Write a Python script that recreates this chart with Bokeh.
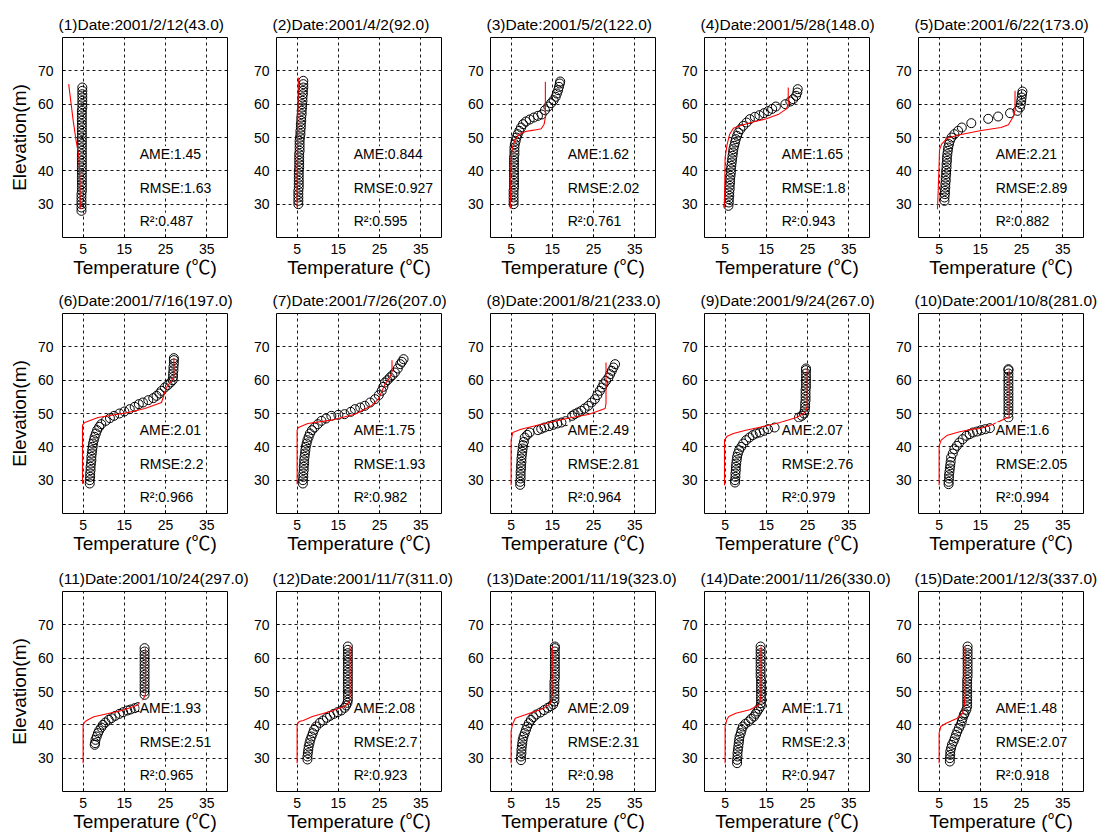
from bokeh.plotting import figure
from bokeh.layouts import column, row
from bokeh.models import FixedTicker, Label, Range1d
from bokeh.embed import file_html
from bokeh.resources import INLINE

FONT = "Liberation Sans"
LABEL_FONT = "Liberation Sans, Noto Sans CJK SC"

titles = ["(1)Date:2001/2/12(43.0)", "(2)Date:2001/4/2(92.0)", "(3)Date:2001/5/2(122.0)",
          "(4)Date:2001/5/28(148.0)", "(5)Date:2001/6/22(173.0)", "(6)Date:2001/7/16(197.0)",
          "(7)Date:2001/7/26(207.0)", "(8)Date:2001/8/21(233.0)", "(9)Date:2001/9/24(267.0)",
          "(10)Date:2001/10/8(281.0)", "(11)Date:2001/10/24(297.0)", "(12)Date:2001/11/7(311.0)",
          "(13)Date:2001/11/19(323.0)", "(14)Date:2001/11/26(330.0)", "(15)Date:2001/12/3(337.0)"]
ame = ["1.45", "0.844", "1.62", "1.65", "2.21", "2.01", "1.75", "2.49", "2.07", "1.6",
       "1.93", "2.08", "2.09", "1.71", "1.48"]
rmse = ["1.63", "0.927", "2.02", "1.8", "2.89", "2.2", "1.93", "2.81", "2.76", "2.05",
        "2.51", "2.7", "2.31", "2.3", "2.07"]
r2 = ["0.487", "0.595", "0.761", "0.943", "0.882", "0.966", "0.982", "0.964", "0.979", "0.994",
      "0.965", "0.923", "0.98", "0.947", "0.918"]

x_ticks = [5, 15, 25, 35]
y_ticks = [30, 40, 50, 60, 70]

# ---- observed profiles (elevation m, temperature C) ----
obs_elev_1 = [28, 29, 30, 31, 32, 33, 34, 35, 36, 37, 38, 39, 40, 41, 42, 43, 44, 45, 46, 47, 48, 49,
              50, 51, 52, 53, 54, 55, 56, 57, 58, 59, 60, 61, 62, 63, 64, 65]
obs_temp_1 = [4.6, 4.6, 4.6, 4.6, 4.6, 4.6, 4.7, 4.7, 4.7, 4.7, 4.7, 4.7, 4.7, 4.7, 4.7, 4.7, 4.7, 4.7,
              4.7, 4.7, 4.7, 4.7, 4.7, 4.7, 4.7, 4.7, 4.7, 4.7, 4.7, 4.7, 4.7, 4.8, 4.8, 4.8, 4.8, 4.8,
              4.8, 4.8]
obs_elev_2 = [30, 31, 32, 33, 34, 35, 36, 37, 38, 39, 40, 41, 42, 43, 44, 45, 46, 47, 48, 49, 50, 51,
              52, 53, 54, 55, 56, 57, 58, 59, 60, 61, 62, 63, 64, 65, 66, 67]
obs_temp_2 = [5.3, 5.3, 5.3, 5.3, 5.3, 5.4, 5.4, 5.4, 5.4, 5.4, 5.4, 5.5, 5.5, 5.5, 5.5, 5.5, 5.6, 5.6,
              5.6, 5.6, 5.7, 5.8, 5.8, 5.9, 5.9, 6.0, 6.0, 6.1, 6.1, 6.2, 6.2, 6.3, 6.3, 6.4, 6.4, 6.5,
              6.5, 6.5]
obs_elev_3 = [30, 31, 32, 33, 34, 35, 36, 37, 38, 39, 40, 41, 42, 43, 44, 45, 46, 47, 48, 49, 50, 51,
              52, 53, 54, 54.8, 55.4, 56, 56.5, 56.9, 58.2, 59.3, 60.3, 61.2, 62.2, 63.2, 64.2, 65.2,
              66.2, 66.8]
obs_temp_3 = [5.6, 5.6, 5.6, 5.6, 5.6, 5.7, 5.7, 5.7, 5.7, 5.7, 5.7, 5.7, 5.7, 5.7, 5.7, 5.8, 5.8, 5.8,
              5.9, 6.1, 6.3, 6.6, 7.0, 7.4, 7.9, 8.6, 9.5, 10.5, 11.5, 12.4, 13.2, 14.0, 14.7, 15.3,
              15.8, 16.1, 16.4, 16.6, 16.8, 16.9]
obs_elev_4 = [29.5, 30.5, 31.5, 32.5, 33.5, 34.5, 35.5, 36.5, 37.5, 38.5, 39.5, 40.5, 41.5, 42.5, 43.5,
              44.5, 45.5, 46.5, 47.5, 48.5, 49.5, 50.5, 51.5, 52.5, 53.5, 54.5, 55.5, 56.2, 56.7, 57.3,
              57.9, 58.6, 59.3, 60.0, 60.8, 61.5, 62.5, 63.5, 64.5]
obs_temp_4 = [5.8, 5.9, 5.9, 6.0, 6.0, 6.1, 6.1, 6.2, 6.2, 6.3, 6.4, 6.4, 6.5, 6.6, 6.7, 6.8, 6.9, 7.0,
              7.2, 7.4, 7.6, 7.9, 8.2, 8.7, 9.4, 10.2, 11.0, 12.2, 13.3, 14.4, 15.4, 16.4, 17.3, 19.6,
              20.8, 21.5, 22.2, 22.5, 22.6]
obs_elev_5 = [31, 32, 33, 34, 35, 36, 37, 38, 39, 40, 41, 42, 43, 44, 45, 46, 47, 48, 49, 50, 51, 52,
              53, 54.3, 55.6, 56.3, 57.3, 58, 59, 60, 61, 62, 63, 63.8]
obs_temp_5 = [6.3, 6.3, 6.4, 6.4, 6.5, 6.5, 6.6, 6.6, 6.7, 6.7, 6.8, 6.8, 6.9, 6.9, 7.0, 7.1, 7.2, 7.4,
              7.6, 8.0, 8.7, 9.6, 10.5, 12.8, 16.9, 19.3, 22.2, 24.0, 24.6, 24.8, 24.9, 25.0, 25.1, 25.2]
obs_elev_6 = [29, 30, 31, 32, 33, 34, 35, 36, 37, 38, 39, 40, 41, 42, 43, 44, 45, 46, 46.8, 47.8, 48.6,
              49.3, 50, 50.6, 51.3, 52, 52.8, 53.3, 54, 54.6, 55.3, 56, 56.8, 57.8, 58.5, 59.3, 60, 61,
              62, 63, 64, 65, 66, 66.6]
obs_temp_6 = [6.6, 6.6, 6.7, 6.7, 6.8, 6.8, 6.9, 7.0, 7.0, 7.1, 7.2, 7.3, 7.4, 7.6, 7.8, 8.1, 8.4, 8.9,
              9.4, 10.5, 11.5, 12.5, 13.8, 15.0, 16.3, 17.5, 18.5, 19.5, 20.8, 22.0, 22.8, 23.5, 24.0,
              24.8, 25.5, 26.2, 26.7, 26.8, 26.8, 26.9, 26.9, 27.0, 27.0, 27.0]
obs_elev_7 = [29, 30, 31, 32, 33, 34, 35, 36, 37, 38, 39, 40, 41, 42, 43, 44, 45, 45.8, 46.8, 47.8,
              48.5, 49.3, 49.6, 49.8, 50.5, 51.3, 51.8, 52.3, 53.3, 54.3, 55.5, 56.8, 58, 59.3, 60,
              60.8, 61.5, 62.3, 63.5, 64.8, 65.5, 66.3]
obs_temp_7 = [6.4, 6.4, 6.5, 6.5, 6.6, 6.6, 6.7, 6.7, 6.8, 6.9, 7.0, 7.1, 7.3, 7.5, 7.8, 8.1, 8.6, 9.2,
              10.0, 10.9, 12.0, 13.3, 15.0, 16.5, 18.0, 19.0, 20.3, 21.4, 22.7, 23.9, 24.8, 25.5, 25.9,
              26.3, 26.9, 27.5, 28.1, 28.7, 29.4, 30.0, 30.4, 30.8]
obs_elev_8 = [28.6, 29.5, 30.5, 31.5, 32.5, 33.5, 34.5, 35.5, 36.5, 37.5, 38.5, 39.5, 40.5, 41.5, 42.8,
              43.6, 44.3, 45, 45.4, 45.8, 46.2, 46.6, 47, 47.3, 47.7, 49.3, 49.8, 50.3, 50.8, 51.5,
              52.3, 53.3, 54.3, 55.5, 56.8, 57.8, 58.8, 59.8, 60.8, 61.8, 62.8, 63.8, 64.8]
obs_temp_8 = [7.2, 7.2, 7.3, 7.3, 7.3, 7.4, 7.4, 7.5, 7.5, 7.6, 7.7, 7.8, 7.9, 8.1, 8.3, 8.9, 9.5, 11.5,
              12.3, 13.1, 14.2, 15.2, 16.2, 17.2, 18.2, 19.8, 20.4, 21.2, 22.0, 22.8, 23.7, 24.5, 25.3,
              25.9, 26.5, 27.0, 27.4, 28.0, 28.6, 29.0, 29.4, 29.8, 30.2]
obs_elev_9 = [29.3, 30, 31, 32, 33, 34, 35, 36, 37, 38, 39, 40, 41, 42, 42.8, 43.5, 44, 44.3, 44.8,
              45.3, 45.8, 48.8, 49.3, 50, 51, 52, 53, 54, 55, 56, 57, 58, 59, 60, 61, 62, 63, 63.5]
obs_temp_9 = [7.4, 7.4, 7.5, 7.5, 7.6, 7.6, 7.7, 7.8, 7.9, 8.1, 8.4, 8.9, 9.4, 10.1, 10.9, 11.7, 12.5,
              13.4, 14.4, 15.4, 17.0, 22.9, 23.6, 24.1, 24.3, 24.4, 24.4, 24.5, 24.5, 24.5, 24.5, 24.6,
              24.6, 24.6, 24.6, 24.6, 24.6, 24.6]
obs_elev_10 = [28.8, 29.5, 30.5, 31.5, 32.5, 33.5, 34.5, 35.5, 36.8, 38, 39.3, 40.3, 41.3, 42.3, 43.3,
               43.8, 44.3, 44.6, 45, 45.3, 45.6, 48.8, 50, 51, 52, 53, 54, 55, 56, 57, 58, 59, 60, 61,
               62, 63, 63.3]
obs_temp_10 = [7.3, 7.3, 7.4, 7.4, 7.5, 7.6, 7.7, 7.8, 7.9, 8.3, 8.7, 9.3, 9.9, 10.7, 11.6, 12.4, 13.2,
               14.2, 15.2, 16.2, 17.3, 21.8, 21.8, 21.8, 21.8, 21.8, 21.8, 21.8, 21.8, 21.8, 21.8,
               21.8, 21.8, 21.8, 21.8, 21.8, 21.8]
obs_elev_11 = [34, 34.5, 35.5, 36.5, 37.5, 38.3, 39.2, 40, 40.7, 41.5, 42, 42.7, 43.3, 43.8, 44.3, 44.6,
               45, 45.3, 49, 50, 51, 52, 53, 54, 55, 56, 57, 58, 59, 60, 61, 62, 63]
obs_temp_11 = [7.8, 7.9, 8.0, 8.3, 8.6, 8.9, 9.4, 9.8, 10.4, 11.2, 11.9, 12.8, 13.8, 14.7, 15.7, 16.5,
               17.5, 18.3, 19.9, 19.9, 19.9, 19.9, 19.9, 19.9, 19.9, 19.9, 19.9, 19.9, 19.9, 19.9,
               19.9, 19.9, 19.9]
obs_elev_12 = [29.6, 30.5, 31.5, 32.5, 33.5, 34.5, 35.5, 36.5, 37.5, 38.5, 39.5, 40.6, 41.3, 42.1,
               42.7, 43.3, 43.8, 44.3, 45.1, 45.8, 46.6, 47.5, 48.5, 49.5, 50.5, 51.5, 52.5, 53.5,
               54.5, 55.5, 56.5, 57.5, 58.5, 59.5, 60.5, 61.5, 62.5, 63.5]
obs_temp_12 = [7.5, 7.5, 7.6, 7.7, 7.8, 8.0, 8.2, 8.5, 8.8, 9.1, 9.6, 10.5, 11.3, 12.2, 13.0, 13.9,
               14.8, 15.7, 16.5, 16.9, 17.2, 17.3, 17.3, 17.3, 17.3, 17.3, 17.3, 17.3, 17.3, 17.3,
               17.3, 17.3, 17.3, 17.3, 17.3, 17.3, 17.3, 17.3]
obs_elev_13 = [29.4, 30.5, 31.5, 32.5, 33.5, 34.5, 35.5, 36.5, 37.5, 38.5, 39.5, 40.5, 41.5, 42.3,
               43.1, 43.7, 44.4, 45.1, 45.6, 46.1, 47, 48, 49, 50, 51, 52, 53, 54, 55, 56, 57, 58, 59,
               60, 61, 62, 63, 63.5]
obs_temp_13 = [7.4, 7.4, 7.5, 7.5, 7.6, 7.7, 7.8, 8.0, 8.3, 8.6, 8.9, 9.3, 9.8, 10.4, 11.1, 12.1, 13.0,
               13.9, 14.6, 15.2, 15.5, 15.5, 15.5, 15.5, 15.5, 15.5, 15.5, 15.6, 15.6, 15.6, 15.6,
               15.6, 15.6, 15.6, 15.6, 15.6, 15.6, 15.6]
obs_elev_14 = [28.5, 29.5, 30.5, 31.5, 32.5, 33.5, 34.5, 35.5, 36.5, 37.5, 38.5, 39.5, 40.3, 41, 41.8,
               42.5, 43.3, 44, 44.8, 45.6, 46.5, 47.5, 48.5, 49.5, 50.5, 51.5, 52.5, 53.5, 54.5, 55.5,
               56.5, 57.5, 58.5, 59.5, 60.5, 61.5, 62.5, 63.5]
obs_temp_14 = [7.9, 7.9, 8.0, 8.0, 8.1, 8.2, 8.3, 8.4, 8.5, 8.8, 9.0, 9.3, 9.9, 10.7, 11.3, 12.0, 12.4,
               12.8, 13.2, 13.6, 13.7, 13.7, 13.7, 13.7, 13.7, 13.7, 13.7, 13.7, 13.6, 13.6, 13.6,
               13.6, 13.6, 13.6, 13.6, 13.6, 13.6, 13.6]
obs_elev_15 = [29, 30, 31, 32, 33, 34, 35, 36, 37, 38, 39, 40, 41, 42, 43, 43.5, 44.5, 45.5, 46.5,
               47.5, 48.5, 49.5, 50.5, 51.5, 52.5, 53.5, 54.5, 55.5, 56.5, 57.5, 58.5, 59.5, 60.5,
               61.5, 62.5, 63.5]
obs_temp_15 = [7.6, 7.6, 7.7, 7.7, 7.9, 8.1, 8.5, 8.8, 9.1, 9.4, 9.8, 10.2, 10.5, 10.7, 11.0, 11.2,
               11.6, 11.8, 11.8, 11.8, 11.8, 11.8, 11.8, 11.8, 11.8, 11.8, 11.9, 11.9, 11.9, 11.9,
               11.9, 11.9, 11.9, 11.9, 11.9, 11.9]

# ---- simulated profiles ----
sim_elev_1 = [28.5, 38, 44, 47, 49, 55, 61, 66]
sim_temp_1 = [4.3, 4.2, 4.0, 3.6, 3.3, 2.6, 2.0, 1.5]
sim_elev_2 = [29, 40, 50, 60, 68]
sim_temp_2 = [5.0, 5.0, 5.1, 5.2, 5.3]
sim_elev_3 = [28.7, 35, 44, 47, 49.5, 51, 51.8, 52.2, 52.6, 54, 56, 60, 66.7]
sim_temp_3 = [4.8, 4.9, 5.0, 5.3, 6.0, 7.0, 8.5, 10.5, 12.3, 13.0, 13.3, 13.3, 13.3]
sim_elev_4 = [29, 35, 44, 48, 51, 52.8, 53.7, 54.7, 55.6, 57, 58.5, 60, 62, 65]
sim_temp_4 = [4.8, 4.9, 5.0, 5.5, 6.1, 7.0, 9.0, 12.0, 15.0, 18.0, 19.8, 20.3, 20.3, 20.3]
sim_elev_5 = [28.5, 35, 42, 46.3, 48, 49.8, 50.8, 52.1, 53, 53.8, 56.3, 58, 64]
sim_temp_5 = [4.6, 4.8, 5.0, 5.1, 5.6, 7.0, 10.0, 15.2, 20.0, 21.8, 23.0, 23.4, 23.4]
sim_elev_6 = [28.9, 46.5, 47.3, 48.8, 50.3, 51.5, 53.3, 57.8, 59.8, 61, 66.6]
sim_temp_6 = [4.85, 4.85, 5.4, 8.6, 15.9, 20.0, 24.0, 25.2, 26.4, 27.0, 27.0]
sim_elev_7 = [28.8, 45, 45.8, 47, 48, 49.8, 52.3, 54.3, 58.8, 60.8, 62.5, 66]
sim_temp_7 = [5.0, 5.0, 5.3, 7.6, 13.3, 19.0, 23.0, 24.7, 26.3, 27.5, 28.0, 28.0]
sim_elev_8 = [28.5, 42, 44.3, 45.3, 46.8, 48.6, 49.7, 51.5, 53, 65.3]
sim_temp_8 = [5.0, 5.0, 5.4, 7.4, 12.3, 18.8, 23.7, 27.8, 28.0, 28.0]
sim_elev_9 = [28.5, 42, 43.2, 44, 45, 46, 47.3, 48.8, 50.3, 52, 63.3]
sim_temp_9 = [4.85, 4.85, 5.5, 7.0, 10.0, 14.0, 18.3, 22.3, 24.4, 24.9, 24.9]
sim_elev_10 = [28.5, 40.3, 42, 43.5, 44.5, 45.3, 45.5, 46.8, 49, 63]
sim_temp_10 = [5.0, 5.0, 5.5, 7.0, 10.0, 13.0, 15.0, 18.1, 22.0, 22.0]
sim_elev_11 = [28.5, 40, 41, 41.6, 42.4, 43.4, 44.4, 45.9, 47.5, 49, 63]
sim_temp_11 = [5.0, 5.0, 5.5, 6.3, 7.6, 11.1, 14.6, 18.1, 19.5, 20.1, 20.1]
sim_elev_12 = [28.5, 40, 41, 41.3, 42.5, 44, 45.5, 47, 49, 63.7]
sim_temp_12 = [5.0, 5.0, 5.5, 6.5, 8.7, 13.0, 16.5, 17.7, 17.8, 17.8]
sim_elev_13 = [28.5, 38, 40, 42, 43.5, 45, 46.6, 49, 63.5]
sim_temp_13 = [5.0, 5.0, 5.3, 6.0, 9.5, 13.0, 14.6, 14.9, 15.0]
sim_elev_14 = [28.5, 39.5, 41.5, 42.5, 43.5, 44.5, 46, 49, 63.5]
sim_temp_14 = [5.0, 5.0, 5.4, 5.9, 7.6, 11.0, 13.3, 13.7, 13.7]
sim_elev_15 = [28.5, 37.5, 39.5, 40.5, 42, 43.5, 46, 49, 63.5]
sim_temp_15 = [5.0, 5.0, 5.4, 6.7, 9.4, 10.7, 11.1, 11.3, 11.3]

obs = [(obs_temp_1, obs_elev_1), (obs_temp_2, obs_elev_2), (obs_temp_3, obs_elev_3),
       (obs_temp_4, obs_elev_4), (obs_temp_5, obs_elev_5), (obs_temp_6, obs_elev_6),
       (obs_temp_7, obs_elev_7), (obs_temp_8, obs_elev_8), (obs_temp_9, obs_elev_9),
       (obs_temp_10, obs_elev_10), (obs_temp_11, obs_elev_11), (obs_temp_12, obs_elev_12),
       (obs_temp_13, obs_elev_13), (obs_temp_14, obs_elev_14), (obs_temp_15, obs_elev_15)]
sim = [(sim_temp_1, sim_elev_1), (sim_temp_2, sim_elev_2), (sim_temp_3, sim_elev_3),
       (sim_temp_4, sim_elev_4), (sim_temp_5, sim_elev_5), (sim_temp_6, sim_elev_6),
       (sim_temp_7, sim_elev_7), (sim_temp_8, sim_elev_8), (sim_temp_9, sim_elev_9),
       (sim_temp_10, sim_elev_10), (sim_temp_11, sim_elev_11), (sim_temp_12, sim_elev_12),
       (sim_temp_13, sim_elev_13), (sim_temp_14, sim_elev_14), (sim_temp_15, sim_elev_15)]

stat_x = 18.7
stat_y = [45, 35, 25]

# layout (frame lefts 62/276/490/704/918, frame tops 37/313/591)
lefts = [62, 27, 27, 27, 27]
rights = [22, 22, 22, 22, 20]
tops = [37, 32, 34]
bottoms = [44, 44, 44]

rows_ = []
for r in range(3):
    figs = []
    for c in range(5):
        i = r * 5 + c
        p = figure(frame_width=165, frame_height=200,
                   x_range=Range1d(0, 40), y_range=Range1d(20, 80),
                   output_backend="svg", toolbar_location=None,
                   min_border_left=lefts[c], min_border_right=rights[c],
                   min_border_top=tops[r], min_border_bottom=bottoms[r],
                   title=titles[i])
        p.background_fill_color = "white"
        p.border_fill_color = "white"
        p.outline_line_color = "black"
        p.outline_line_width = 1
        p.outline_line_alpha = 1.0

        p.title.text_font = FONT
        p.title.text_font_size = "15.5px"
        p.title.text_font_style = "normal"
        p.title.align = "left"
        p.title.offset = -4
        p.title.standoff = 9
        p.title.text_color = "black"

        p.xaxis.ticker = FixedTicker(ticks=x_ticks)
        p.yaxis.ticker = FixedTicker(ticks=y_ticks)
        p.xgrid.ticker = FixedTicker(ticks=x_ticks)
        p.ygrid.ticker = FixedTicker(ticks=y_ticks)
        for g in (p.xgrid, p.ygrid):
            g.grid_line_color = "black"
            g.grid_line_dash = "3 3"
            g.grid_line_width = 1
            g.grid_line_alpha = 0.9

        for ax in (p.xaxis, p.yaxis):
            ax.axis_line_color = None
            ax.major_tick_in = 3
            ax.major_tick_out = 0
            ax.minor_tick_line_color = None
            ax.major_tick_line_color = "black"
            ax.major_label_text_font = FONT
            ax.major_label_text_font_size = "14px"
            ax.major_label_text_color = "black"
            ax.axis_label_text_font = LABEL_FONT
            ax.axis_label_text_font_size = "19px"
            ax.axis_label_text_font_style = "normal"
            ax.axis_label_text_color = "black"
        p.xaxis.major_label_standoff = 6
        p.xaxis.axis_label_standoff = 0
        p.yaxis.major_label_standoff = 7
        p.xaxis.axis_label = "Temperature (\u2103)"
        if c == 0:
            p.yaxis.axis_label = "Elevation(m)"
            p.yaxis.axis_label_standoff = 5
            p.yaxis.major_label_standoff = 9

        tx, ey = obs[i]
        p.scatter(x=tx, y=ey, marker="circle", size=9, fill_color=None,
                  line_color="black", line_width=1)
        sx, sy = sim[i]
        p.line(x=sx, y=sy, line_color="red", line_width=1.1)

        texts = ["AME:" + ame[i], "RMSE:" + rmse[i], "R\u00b2:" + r2[i]]
        for t, yy in zip(texts, stat_y):
            p.add_layout(Label(x=stat_x, y=yy, text=t, text_font=FONT,
                               text_font_size="14px", text_baseline="middle",
                               text_align="left", text_color="black",
                               background_fill_color="white", background_fill_alpha=1.0))
        figs.append(p)
    rows_.append(row(*figs))

layout = column(*rows_)
open("out.html", "w").write(file_html(layout, INLINE))
